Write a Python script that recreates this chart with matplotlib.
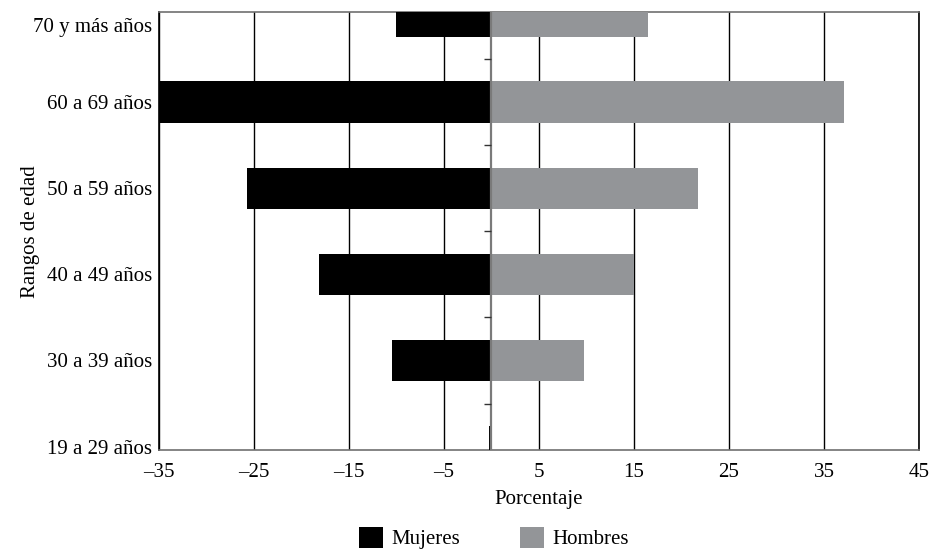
import numpy as np
import matplotlib.pyplot as plt
from matplotlib.transforms import ScaledTranslation

plt.rcParams['font.family'] = ['Liberation Serif', 'DejaVu Serif']

# data (bottom to top)
ageGroups = ['19 a 29 años', '30 a 39 años', '40 a 49 años',
             '50 a 59 años', '60 a 69 años', '70 y más años']
mujeres = [-0.3, -10.5, -18.2, -25.7, -35.0, -10.1]
hombres = [0.0, 9.7, 15.0, 21.7, 37.1, 16.5]
xTicks = [-35, -25, -15, -5, 5, 15, 25, 35, 45]
xTickLabels = ['\u201335', '\u201325', '\u201315', '\u20135', '5', '15', '25', '35', '45']

fig = plt.figure(figsize=(9.32, 5.58), dpi=100)
ax = fig.add_axes([0.1706, 0.1935, 0.8154, 0.7841])

y = np.arange(len(ageGroups))
barH = 0.48
ax.barh(y, mujeres, height=barH, color='black', label='Mujeres', zorder=3)
ax.barh(y, hombres, height=barH, color='#939598', label='Hombres', zorder=3)

# vertical grid
for xt in xTicks:
    ax.axvline(xt, color='black', lw=1.0, zorder=1)
ax.axvline(0, color='#7a7a7a', lw=1.6, zorder=4)
# small ticks on the zero axis between the groups
mids = y[:-1] + 0.5
ax.plot(np.zeros(len(mids)), mids, linestyle='none', marker=0,
        markersize=5, color='#333333', markeredgewidth=1.0, zorder=4)

ax.set_xlim(-35, 45)
ax.set_ylim(-0.04, 5.04)
ax.set_xticks(xTicks)
ax.set_xticklabels(xTickLabels, fontsize=15)
ax.set_yticks(y)
ax.set_yticklabels(ageGroups, fontsize=15)
ax.tick_params(axis='y', length=0, pad=5)
ax.tick_params(axis='x', length=0, pad=9)
# top label sits a bit lower (inside the plot area)
lab = ax.get_yticklabels()[-1]
lab.set_transform(lab.get_transform() + ScaledTranslation(0, -9 / 100, fig.dpi_scale_trans))

ax.spines['left'].set_color('black')
ax.spines['right'].set_color('black')
ax.spines['top'].set_color('#707070')
ax.spines['bottom'].set_color('#707070')
for s in ax.spines.values():
    s.set_linewidth(1.2)

ax.set_xlabel('Porcentaje', fontsize=15, labelpad=6)
ax.set_ylabel('Rangos de edad', fontsize=15)
ax.yaxis.set_label_coords(-0.157, 0.5)

fig.legend(loc='lower center', bbox_to_anchor=(0.53, -0.018), ncol=2,
           frameon=False, fontsize=15, handlelength=1.15, handleheight=1.15,
           handletextpad=0.4, columnspacing=2.9)

fig.savefig('out.png', dpi=100)
